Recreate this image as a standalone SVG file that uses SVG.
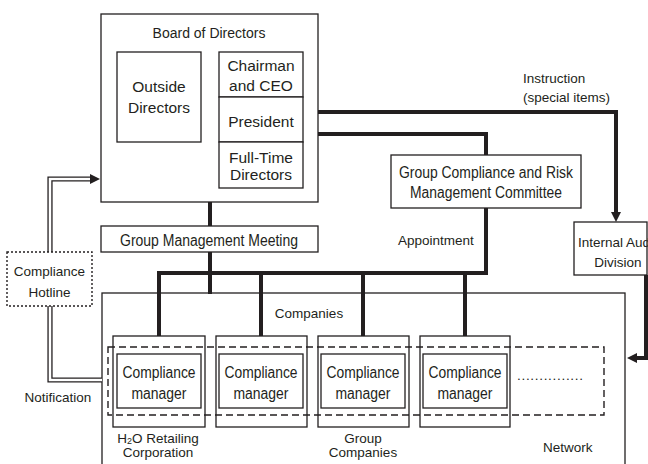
<svg xmlns="http://www.w3.org/2000/svg" width="648" height="464" viewBox="0 0 648 464">
<style>
.box{fill:#fff;stroke:#231f20;stroke-width:1.3}
.t{font-family:"Liberation Sans",Arial,sans-serif;fill:#231f20;font-size:13.5px}
.tm{font-size:14px}
.tl{font-size:15.5px}
.tc{font-size:16px}
.c{text-anchor:middle}
.thick{fill:none;stroke:#231f20;stroke-width:4;stroke-linejoin:miter}
.dbl-o{fill:none;stroke:#231f20;stroke-width:5.2}
.dbl-i{fill:none;stroke:#fff;stroke-width:2.6}
.dash{fill:none;stroke:#231f20;stroke-width:1.4;stroke-dasharray:7 4}
.dot{fill:#fff;stroke:#231f20;stroke-width:1.4;stroke-dasharray:2 2}
</style>
<defs>
<marker id="ah" viewBox="0 0 10 10" refX="4" refY="5" markerWidth="10" markerHeight="10" markerUnits="userSpaceOnUse" orient="auto">
<path d="M0,0 L10,5 L0,10 z" fill="#231f20"/>
</marker>
</defs>
<rect width="648" height="464" fill="#fff"/>

<g id="companies">
<rect class="box" x="102" y="293" width="523" height="180"/>
<text class="t c" x="309" y="318">Companies</text>
<text class="t" x="543" y="452">Network</text>
</g>

<g id="connectors">
<path class="thick" d="M303,112 H616 V216" marker-end="url(#ah)"/>
<path class="thick" d="M303,134 H486 V155"/>
<path class="thick" d="M486,208 V273 H159 V346" marker-end="url(#ah)"/>
<path class="thick" d="M210,202 V226"/>
<path class="thick" d="M210,252 V294"/>
<path class="thick" d="M261,273 V346" marker-end="url(#ah)"/>
<path class="thick" d="M363,273 V346" marker-end="url(#ah)"/>
<path class="thick" d="M465,273 V346" marker-end="url(#ah)"/>
<path class="thick" d="M646,275 V358 H633" marker-end="url(#ah)"/>
<path class="dbl-o" d="M50,252 V179 H91"/>
<path class="dbl-i" d="M50,253 V179 H91"/>
<path d="M90,174 L100,179 L90,184 z" fill="#231f20"/>
<path class="dbl-o" d="M50,306 V380 H102"/>
<path class="dbl-i" d="M50,305 V380 H102"/>
</g>

<g id="board">
<rect class="box" x="101" y="14" width="217" height="188"/>
<text class="t tm c" x="209" y="38">Board of Directors</text>
</g>
<g id="outside-directors">
<rect class="box" x="117" y="52" width="84" height="90"/>
<text class="t tl c" x="159" y="92">Outside</text>
<text class="t tl c" x="159" y="113">Directors</text>
</g>
<g id="chairman">
<rect class="box" x="219" y="52" width="84" height="45"/>
<text class="t tl c" x="261" y="71">Chairman</text>
<text class="t tl c" x="261" y="91">and CEO</text>
</g>
<g id="president">
<rect class="box" x="219" y="97" width="84" height="45"/>
<text class="t tl c" x="261" y="127">President</text>
</g>
<g id="fulltime">
<rect class="box" x="219" y="142" width="84" height="46"/>
<text class="t tl c" x="261" y="163">Full-Time</text>
<text class="t tl c" x="261" y="180">Directors</text>
</g>

<g id="instruction-label">
<text class="t" x="523" y="83">Instruction</text>
<text class="t" x="523" y="102">(special items)</text>
</g>

<g id="committee">
<rect class="box" x="391" y="155" width="190" height="53"/>
<text class="t tc c" x="486" y="178" textLength="174" lengthAdjust="spacingAndGlyphs">Group Compliance and Risk</text>
<text class="t tc c" x="486" y="198" textLength="152" lengthAdjust="spacingAndGlyphs">Management Committee</text>
</g>
<text class="t" x="398" y="245">Appointment</text>

<g id="internal-audit">
<rect class="box" x="574" y="222" width="73" height="53"/>
<text class="t" x="578" y="247">Internal Audit</text>
<text class="t c" x="618" y="267">Division</text>
</g>

<g id="gmm">
<rect class="box" x="101" y="226" width="217" height="26"/>
<text class="t tc c" x="209" y="246" textLength="178" lengthAdjust="spacingAndGlyphs">Group Management Meeting</text>
</g>

<g id="hotline">
<rect class="dot" x="7" y="252" width="85" height="54"/>
<text class="t c" x="49.5" y="276">Compliance</text>
<text class="t c" x="49.5" y="297">Hotline</text>
</g>
<text class="t c" x="58" y="402">Notification</text>

<g id="cm1">
<rect class="box" x="113" y="336" width="92" height="91"/>
<rect class="box" x="117" y="354" width="84" height="54"/>
<text class="t tc c" x="159" y="378" textLength="73" lengthAdjust="spacingAndGlyphs">Compliance</text>
<text class="t tc c" x="159" y="399" textLength="55" lengthAdjust="spacingAndGlyphs">manager</text>
</g>
<g id="cm2">
<rect class="box" x="216" y="336" width="91" height="91"/>
<rect class="box" x="219" y="354" width="84" height="54"/>
<text class="t tc c" x="261" y="378" textLength="73" lengthAdjust="spacingAndGlyphs">Compliance</text>
<text class="t tc c" x="261" y="399" textLength="55" lengthAdjust="spacingAndGlyphs">manager</text>
</g>
<g id="cm3">
<rect class="box" x="318" y="336" width="91" height="91"/>
<rect class="box" x="321" y="354" width="84" height="54"/>
<text class="t tc c" x="363" y="378" textLength="73" lengthAdjust="spacingAndGlyphs">Compliance</text>
<text class="t tc c" x="363" y="399" textLength="55" lengthAdjust="spacingAndGlyphs">manager</text>
</g>
<g id="cm4">
<rect class="box" x="420" y="336" width="90" height="91"/>
<rect class="box" x="423" y="354" width="84" height="54"/>
<text class="t tc c" x="465" y="378" textLength="73" lengthAdjust="spacingAndGlyphs">Compliance</text>
<text class="t tc c" x="465" y="399" textLength="55" lengthAdjust="spacingAndGlyphs">manager</text>
</g>
<text class="t" x="517" y="380" textLength="66" lengthAdjust="spacing">...............</text>

<g id="network-frame">
<rect class="dash" x="108" y="347" width="496" height="68"/>
</g>

<g id="labels">
<text class="t c" x="158" y="443">H<tspan font-size="9" dy="1">2</tspan><tspan dy="-1">O Retailing</tspan></text>
<text class="t c" x="158" y="457">Corporation</text>
<text class="t c" x="363" y="443">Group</text>
<text class="t c" x="363" y="457">Companies</text>
</g>
</svg>
